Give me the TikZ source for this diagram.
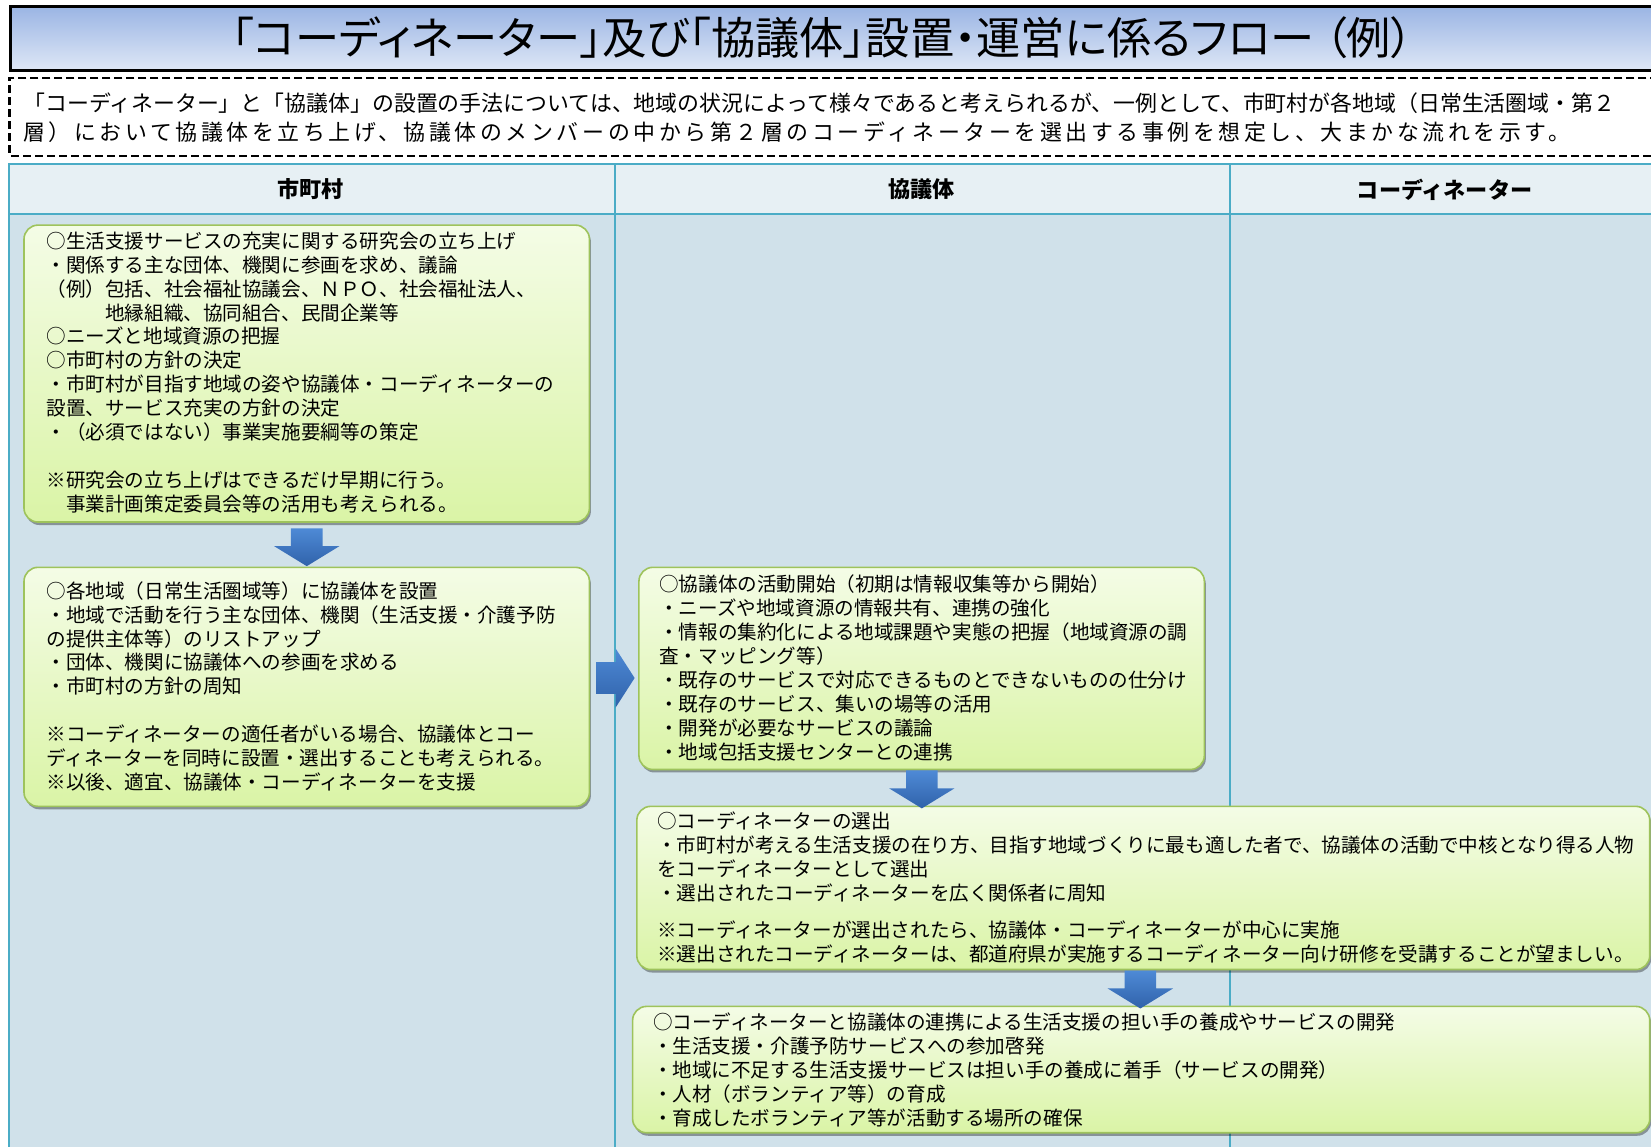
\documentclass[tikz,border=0pt]{standalone}
\usepackage{fontspec}
\setmainfont{Noto Sans CJK JP}
\usetikzlibrary{calc,shadows}
\definecolor{titletop}{RGB}{155,181,228}
\definecolor{titlebot}{RGB}{222,231,246}
\definecolor{hdrfill}{RGB}{231,240,244}
\definecolor{bodyfill}{RGB}{208,225,234}
\definecolor{tabline}{RGB}{75,172,198}
\definecolor{gtop}{RGB}{244,252,230}
\definecolor{gbot}{RGB}{218,244,166}
\definecolor{gline}{RGB}{158,195,92}
\definecolor{atop}{RGB}{78,138,214}
\definecolor{abot}{RGB}{48,98,170}
\tikzset{
  gbox/.style={draw=gline, line width=1.6pt, rounded corners=14pt, top color=gtop, bottom color=gbot,
    anchor=north west, inner sep=0pt,
    drop shadow={shadow xshift=1.5pt, shadow yshift=-3pt, opacity=0.35, fill=black}},
  btext/.style={anchor=north west, inner sep=0pt, align=left, font=\fontsize{18.6}{22.7}\selectfont},
  hdr/.style={font=\fontsize{21}{24}\selectfont\bfseries},
  cell/.style={draw=tabline, line width=2pt, anchor=north west, inner sep=0pt},
  arrowfill/.style={top color=atop, bottom color=abot, draw=none},
  pics/downblock/.style={code={\shade[arrowfill] (-15,0) -- (15,0) -- (15,17) -- (31,17) -- (0,36) -- (-31,17) -- (-15,17) -- cycle;}},
  pics/rightblock/.style={code={\shade[arrowfill] (0,-15) -- (18,-15) -- (18,-28) -- (36,0) -- (18,28) -- (18,15) -- (0,15) -- cycle;}},
}
\begin{document}
\begin{tikzpicture}[x=1pt,y=-1pt,scale=1.05293,every node/.append style={transform shape}]
\useasboundingbox (0,0) rectangle (1568,1089.3);
\fill[white] (0,0) rectangle (1568,1089.3);

% title
\node[draw=black, line width=3pt, top color=titletop, bottom color=titlebot, anchor=north west,
  minimum width=1600pt, minimum height=60pt, inner sep=0pt] (titlebox) at (8,5) {};
\node[inner sep=0pt] (title) at (781,36) {\fontsize{42}{44}\selectfont\addfontfeatures{RawFeature=+palt}「コーディネーター」及び「協議体」設置・運営に係るフロー （例）};

% note
\node[draw=black, dash pattern=on 8pt off 4pt, line width=2.5pt, anchor=north west,
  minimum width=1600pt, minimum height=74pt, inner sep=0pt] (note) at (8,73) {};
\node[anchor=west, inner sep=0pt, font=\fontsize{20.8}{24}\selectfont] (note1) at (22,98)
  {「コーディネーター」と「協議体」の設置の手法については、地域の状況によって様々であると考えられるが、一例として、市町村が各地域（日常生活圏域・第２};
\node[anchor=west, inner sep=0pt, font=\fontsize{20.8}{24}\selectfont] (note2) at (22,126)
  {\addfontfeatures{LetterSpace=16.5}層）において協議体を立ち上げ、協議体のメンバーの中から第２層のコーディネーターを選出する事例を想定し、大まかな流れを示す。};

% table
\node[cell, fill=hdrfill, minimum width=575pt, minimum height=47pt] (h1) at (8,155) {};
\node[cell, fill=hdrfill, minimum width=584pt, minimum height=47pt] (h2) at (583,155) {};
\node[cell, fill=hdrfill, minimum width=500pt, minimum height=47pt] (h3) at (1167,155) {};
\node[cell, fill=bodyfill, minimum width=575pt, minimum height=920pt] (c1) at (8,202) {};
\node[cell, fill=bodyfill, minimum width=584pt, minimum height=920pt] (c2) at (583,202) {};
\node[cell, fill=bodyfill, minimum width=500pt, minimum height=920pt] (c3) at (1167,202) {};
\node[hdr] (lh1) at (295,180) {市町村};
\node[hdr] (lh2) at (875,180) {協議体};
\node[hdr] (lh3) at (1372,180) {コーディネーター};

% boxes
\node[gbox, minimum width=537pt, minimum height=282pt] (b1) at (22,213) {};
\node[gbox, minimum width=537pt, minimum height=227pt] (b2) at (22,538) {};
\node[gbox, minimum width=537pt, minimum height=192pt] (b3) at (606,538) {};
\node[gbox, minimum width=962pt, minimum height=155pt] (b4) at (604,765) {};
\node[gbox, minimum width=966pt, minimum height=120pt] (b5) at (600,955) {};

\node[btext] (t1) at (44,220) {○生活支援サービスの充実に関する研究会の立ち上げ\\
・関係する主な団体、機関に参画を求め、議論\\
（例）包括、社会福祉協議会、ＮＰＯ、社会福祉法人、\\
　　　地縁組織、協同組合、民間企業等\\
○ニーズと地域資源の把握\\
○市町村の方針の決定\\
・市町村が目指す地域の姿や協議体・コーディネーターの\\
設置、サービス充実の方針の決定\\
・（必須ではない）事業実施要綱等の策定\\
\mbox{}\\
※研究会の立ち上げはできるだけ早期に行う。\\
　事業計画策定委員会等の活用も考えられる。};

\node[btext] (t2) at (44,552) {○各地域（日常生活圏域等）に協議体を設置\\
・地域で活動を行う主な団体、機関（生活支援・介護予防\\
の提供主体等）のリストアップ\\
・団体、機関に協議体への参画を求める\\
・市町村の方針の周知\\
\mbox{}\\
※コーディネーターの適任者がいる場合、協議体とコー\\
ディネーターを同時に設置・選出することも考えられる。\\
※以後、適宜、協議体・コーディネーターを支援};

\node[btext] (t3) at (626,546) {○協議体の活動開始（初期は情報収集等から開始）\\
・ニーズや地域資源の情報共有、連携の強化\\
・情報の集約化による地域課題や実態の把握（地域資源の調\\
査・マッピング等）\\
・既存のサービスで対応できるものとできないものの仕分け\\
・既存のサービス、集いの場等の活用\\
・開発が必要なサービスの議論\\
・地域包括支援センターとの連携};

\node[btext] (t4) at (624,771) {○コーディネーターの選出\\
・市町村が考える生活支援の在り方、目指す地域づくりに最も適した者で、協議体の活動で中核となり得る人物\\
をコーディネーターとして選出\\
・選出されたコーディネーターを広く関係者に周知\\[12.3pt]
※コーディネーターが選出されたら、協議体・コーディネーターが中心に実施\\
※選出されたコーディネーターは、都道府県が実施するコーディネーター向け研修を受講することが望ましい。};

\node[btext] (t5) at (620,962) {○コーディネーターと協議体の連携による生活支援の担い手の養成やサービスの開発\\
・生活支援・介護予防サービスへの参加啓発\\
・地域に不足する生活支援サービスは担い手の養成に着手（サービスの開発）\\
・人材（ボランティア等）の育成\\
・育成したボランティア等が活動する場所の確保};

% arrows
\pic (a1) at ($(b1.south)+(0,5)$) {downblock};
\pic (a2) at ($(b3.south)+(0,0)$) {downblock};
\pic (a3) at ($(b4.south)+(-3,0)$) {downblock};
\pic (a4) at ($(b2.east)+(6,-8.5)$) {rightblock};
\end{tikzpicture}
\end{document}
